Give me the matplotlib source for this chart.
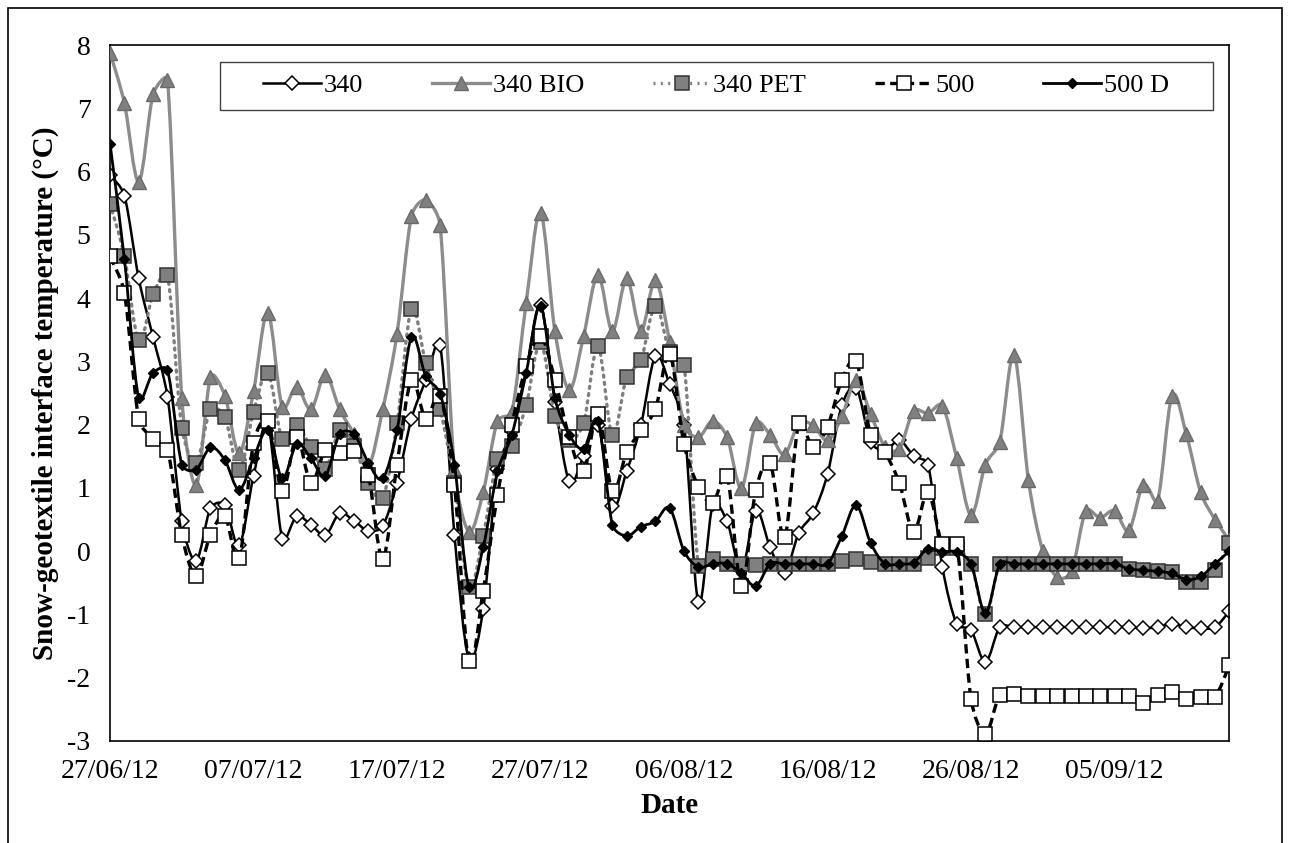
import numpy as np
import pandas as pd
import matplotlib
matplotlib.use("Agg")
import matplotlib.pyplot as plt
import matplotlib.dates as mdates
from matplotlib.path import Path
from matplotlib.patches import PathPatch, Rectangle
from matplotlib.lines import Line2D

plt.rcParams['font.family'] = ['Liberation Serif', 'DejaVu Serif']
plt.rcParams['axes.unicode_minus'] = False

dates = pd.date_range('2012-06-27', '2012-09-13', freq='D')

s340 = [5.95, 5.62, 4.31, 3.38, 2.44, 0.47, -0.15, 0.68, 0.73, 0.09,
        1.19, 2.0, 0.2, 0.55, 0.42, 0.25, 0.6, 0.48, 0.32, 0.4,
        1.08, 2.09, 2.7, 3.26, 0.26, -1.7, -0.92, 1.3, 1.9, 2.86,
        3.89, 2.35, 1.11, 1.5, 2.0, 0.71, 1.26, 2.0, 3.08, 2.64,
        2.0, -0.81, 0.74, 0.47, -0.3, 0.64, 0.06, -0.34, 0.29, 0.6,
        1.22, 2.31, 2.58, 1.73, 1.59, 1.75, 1.51, 1.37, -0.25, -1.15,
        -1.25, -1.75, -1.2, -1.2, -1.2, -1.2, -1.2, -1.2, -1.2, -1.2,
        -1.2, -1.2, -1.22, -1.2, -1.15, -1.2, -1.22, -1.2, -0.95]
s340_bio = [7.88, 7.08, 5.84, 7.22, 7.45, 2.42, 1.04, 2.75, 2.46, 1.55,
            2.53, 3.77, 2.28, 2.6, 2.24, 2.79, 2.24, 1.85, 1.35, 2.24,
            3.44, 5.29, 5.55, 5.15, 1.3, 0.31, 0.93, 2.06, 2.2, 3.93,
            5.35, 3.48, 2.55, 3.4, 4.37, 3.48, 4.31, 3.48, 4.28, 3.3,
            2.0, 1.8, 2.06, 1.8, 1.0, 2.02, 1.84, 1.53, 2.02, 1.99,
            1.75, 2.13, 2.7, 2.17, 1.65, 1.62, 2.22, 2.18, 2.3, 1.47,
            0.57, 1.37, 1.73, 3.1, 1.12, 0.0, -0.41, -0.32, 0.64, 0.53,
            0.64, 0.33, 1.05, 0.8, 2.45, 1.85, 0.93, 0.5, 0.17]
s340_pet = [5.49, 4.66, 3.33, 4.06, 4.37, 1.95, 1.4, 2.24, 2.12, 1.29,
            2.2, 2.82, 1.77, 2.0, 1.64, 1.3, 1.91, 1.66, 1.08, 0.84,
            2.02, 3.82, 2.97, 2.24, 1.08, -0.56, 0.24, 1.46, 1.67, 2.31,
            3.3, 2.13, 1.75, 2.02, 3.24, 1.84, 2.75, 3.02, 3.88, 3.15,
            2.95, -0.23, -0.12, -0.2, -0.2, -0.22, -0.2, -0.2, -0.2, -0.2,
            -0.2, -0.15, -0.12, -0.17, -0.2, -0.2, -0.2, -0.1, 0.05, 0.05,
            -0.2, -1.0, -0.2, -0.2, -0.2, -0.2, -0.2, -0.2, -0.2, -0.2,
            -0.2, -0.28, -0.3, -0.32, -0.33, -0.48, -0.48, -0.3, 0.13]
s500 = [4.66, 4.08, 2.09, 1.77, 1.6, 0.25, -0.39, 0.26, 0.55, -0.11,
        1.71, 2.06, 0.95, 1.8, 1.08, 1.6, 1.55, 1.58, 1.2, -0.12,
        1.37, 2.7, 2.09, 2.46, 1.05, -1.74, -0.63, 0.89, 2.0, 2.92,
        3.4, 2.71, 1.8, 1.26, 2.17, 0.95, 1.56, 1.91, 2.24, 3.11,
        1.69, 1.02, 0.76, 1.19, -0.55, 0.97, 1.39, 0.22, 2.02, 1.64,
        1.97, 2.71, 3.0, 1.84, 1.56, 1.08, 0.31, 0.93, 0.11, 0.11,
        -2.34, -2.89, -2.27, -2.25, -2.29, -2.29, -2.29, -2.29, -2.29, -2.29,
        -2.29, -2.29, -2.4, -2.27, -2.22, -2.33, -2.3, -2.3, -1.8]
s500_d = [6.44, 4.62, 2.42, 2.82, 2.86, 1.37, 1.29, 1.64, 1.44, 0.97,
          1.47, 1.91, 1.15, 1.69, 1.47, 1.19, 1.85, 1.85, 1.4, 1.15,
          1.91, 3.38, 2.77, 2.49, 1.37, -0.56, 0.06, 1.26, 1.84, 2.82,
          3.88, 2.42, 1.84, 1.62, 2.06, 0.42, 0.24, 0.39, 0.47, 0.68,
          0.0, -0.25, -0.2, -0.2, -0.35, -0.55, -0.2, -0.2, -0.2, -0.2,
          -0.2, 0.24, 0.73, 0.13, -0.2, -0.2, -0.18, 0.04, -0.01, -0.01,
          -0.2, -0.98, -0.2, -0.2, -0.2, -0.2, -0.2, -0.2, -0.2, -0.2,
          -0.2, -0.28, -0.3, -0.32, -0.35, -0.45, -0.4, -0.2, 0.0]

labels = ['340', '340 BIO', '340 PET', '500', '500 D']
series = [s340, s340_bio, s340_pet, s500, s500_d]

line_styles = [
    dict(color='black', lw=1.8, ls='-'),
    dict(color='#8c8c8c', lw=2.4, ls='-'),
    dict(color='#7f7f7f', lw=2.4, ls=(0, (0.6, 1.6))),
    dict(color='black', lw=2.4, ls=(0, (2.8, 1.6))),
    dict(color='black', lw=2.0, ls='-'),
]
marker_styles = [
    dict(marker='D', ms=7, mfc='white', mec='black', mew=1.1),
    dict(marker='^', ms=10, mfc='#808080', mec='#6a6a6a', mew=1.0),
    dict(marker='s', ms=10, mfc='#808080', mec='#333333', mew=1.1),
    dict(marker='s', ms=10, mfc='white', mec='black', mew=1.1),
    dict(marker='D', ms=5, mfc='black', mec='black', mew=1.0),
]

# rough pixel scale of one day / one degree, used only to shape the curves
PX_DAY, PX_DEG = 14.35, 63.3


def smooth_path(x, y, cap=0.4):
    # smoothed line: catmull-rom style bezier, arms capped so short
    # segments next to steep drops do not overshoot
    x0 = x[0]
    p = np.column_stack([(x - x0) * PX_DAY, np.asarray(y) * PX_DEG])
    n = len(p)
    d = np.array([(p[min(i + 1, n - 1)] - p[max(i - 1, 0)]) / 6
                  for i in range(n)])
    verts = [p[0]]
    codes = [Path.MOVETO]
    for i in range(n - 1):
        seg = np.hypot(*(p[i + 1] - p[i]))
        a = d[i] * min(1, cap * seg / max(np.hypot(*d[i]), 1e-9))
        b = d[i + 1] * min(1, cap * seg / max(np.hypot(*d[i + 1]), 1e-9))
        verts += [p[i] + a, p[i + 1] - b, p[i + 1]]
        codes += [Path.CURVE4] * 3
    v = np.array(verts)
    v[:, 0] = v[:, 0] / PX_DAY + x0
    v[:, 1] = v[:, 1] / PX_DEG
    return Path(v, codes)


fig = plt.figure(figsize=(12.9, 8.43), dpi=100)
ax = fig.add_axes([0.0853, 0.121, 0.8677, 0.8256])

xnum = mdates.date2num(dates)
handles = []
for k, (vals, lab) in enumerate(zip(series, labels)):
    ls = line_styles[k]
    ms = marker_styles[k]
    patch = PathPatch(smooth_path(xnum, vals), fill=False,
                      edgecolor=ls['color'], lw=ls['lw'], linestyle=ls['ls'],
                      capstyle='round' if k == 2 else 'butt', zorder=2 + k)
    ax.add_patch(patch)
    ax.plot(dates, vals, linestyle='none', zorder=2 + k + 0.5, **ms)
    handles.append(Line2D([], [], color=ls['color'], lw=ls['lw'],
                          linestyle=ls['ls'], **ms))

ax.set_xlim(dates[0], dates[-1])
ax.set_ylim(-3, 8)
ax.set_yticks(range(-3, 9))
ax.set_xticks(pd.date_range('2012-06-27', '2012-09-13', freq='10D'))
ax.xaxis.set_major_formatter(mdates.DateFormatter('%d/%m/%y'))
ax.tick_params(axis='both', length=0, labelsize=20)
ax.tick_params(axis='x', pad=13)
ax.tick_params(axis='y', pad=14)
for sp in ax.spines.values():
    sp.set_linewidth(1.2)

ax.set_xlabel('Date', fontsize=21, fontweight='bold', labelpad=6)
ax.set_ylabel('Snow-geotextile interface temperature (°C)', fontsize=21,
              fontweight='bold', labelpad=6)

# legend box drawn on its own, entries centred inside it like the original
ax.add_patch(Rectangle((0.098, 0.907), 0.887, 0.069, transform=ax.transAxes,
                       fill=True, facecolor='white', edgecolor='#404040',
                       lw=1.0, zorder=20))
leg = ax.legend(handles, labels, ncol=5, loc='center',
                bbox_to_anchor=(0.098 + 0.887 / 2, 0.907 + 0.069 / 2),
                fontsize=19, frameon=False, handlelength=2.2,
                handletextpad=0.1, columnspacing=2.6)
leg.set_zorder(21)

fig.patches.append(Rectangle((0.006, -0.02), 0.988, 1.01, fill=False,
                             edgecolor='black', lw=1.2,
                             transform=fig.transFigure))

fig.savefig('out.png', dpi=100)
